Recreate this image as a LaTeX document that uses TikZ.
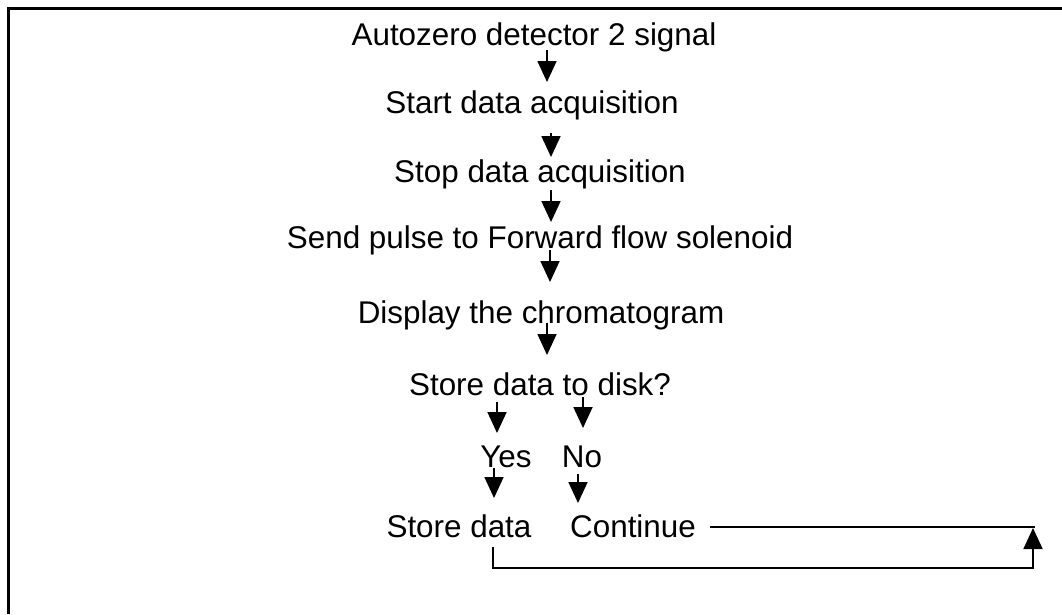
\documentclass[tikz,border=0pt]{standalone}
\usepackage{fontspec}
\setmainfont{Liberation Sans}
\usetikzlibrary{arrows.meta}
\begin{document}
\begin{tikzpicture}[x=1pt,y=-1pt,
  lbl/.style={anchor=base,inner sep=0pt,font=\fontsize{31.4pt}{36pt}\selectfont},
  flow/.style={line width=1.8pt,-{Triangle[length=21pt,width=19pt]}},
  plain/.style={line width=1.8pt},
  frame/.style={line width=3pt}]
\useasboundingbox (0,0) rectangle (1062,614);
% open frame: top and left edges
\draw[frame] (1062,8) -- (8,8) -- (8,614);

% steps (placed on their baselines)
\node[lbl] (azero) at (534,45)  {Autozero detector 2 signal};
\node[lbl] (start) at (532,113) {Start data acquisition};
\node[lbl] (stop)  at (540,182) {Stop data acquisition};
\node[lbl] (pulse) at (540,248) {Send pulse to Forward flow solenoid};
\node[lbl] (disp)  at (541,323) {Display the chromatogram};
\node[lbl] (ask)   at (540,395) {Store data to disk?};
\node[lbl] (yes)   at (506,467) {Yes};
\node[lbl] (no)    at (582,467) {No};
\node[lbl] (store) at (459,537) {Store data};
\node[lbl] (cont)  at (633,537) {Continue};

% arrow end points
\coordinate (a1s) at (547,50);  \coordinate (a1e) at (547,82);
\coordinate (a2s) at (551,133); \coordinate (a2e) at (551,157);
\coordinate (a3s) at (551,190); \coordinate (a3e) at (551,222);
\coordinate (a4s) at (550,250); \coordinate (a4e) at (550,282);
\coordinate (a5s) at (547,323); \coordinate (a5e) at (547,355);
\coordinate (y1s) at (497,402); \coordinate (y1e) at (497,433);
\coordinate (n1s) at (583,397); \coordinate (n1e) at (583,428);
\coordinate (y2s) at (494,468); \coordinate (y2e) at (494,498);
\coordinate (n2s) at (578,474); \coordinate (n2e) at (578,503);

\draw[flow] (a1s) -- (a1e);
\draw[flow] (a2s) -- (a2e);
\draw[flow] (a3s) -- (a3e);
\draw[flow] (a4s) -- (a4e);
\draw[flow] (a5s) -- (a5e);
\draw[flow] (y1s) -- (y1e);
\draw[flow] (n1s) -- (n1e);
\draw[flow] (y2s) -- (y2e);
\draw[flow] (n2s) -- (n2e);

% return loop
\coordinate (cs) at (710,527);
\coordinate (ce) at (1035,527);
\coordinate (ls) at (493,547);
\coordinate (lb) at (493,568);
\coordinate (rb) at (1033,568);
\coordinate (rt) at (1033,528);
\draw[plain] (cs) -- (ce);
\draw[flow] (ls) -- (lb) -- (rb) -- (rt);
\end{tikzpicture}
\end{document}
